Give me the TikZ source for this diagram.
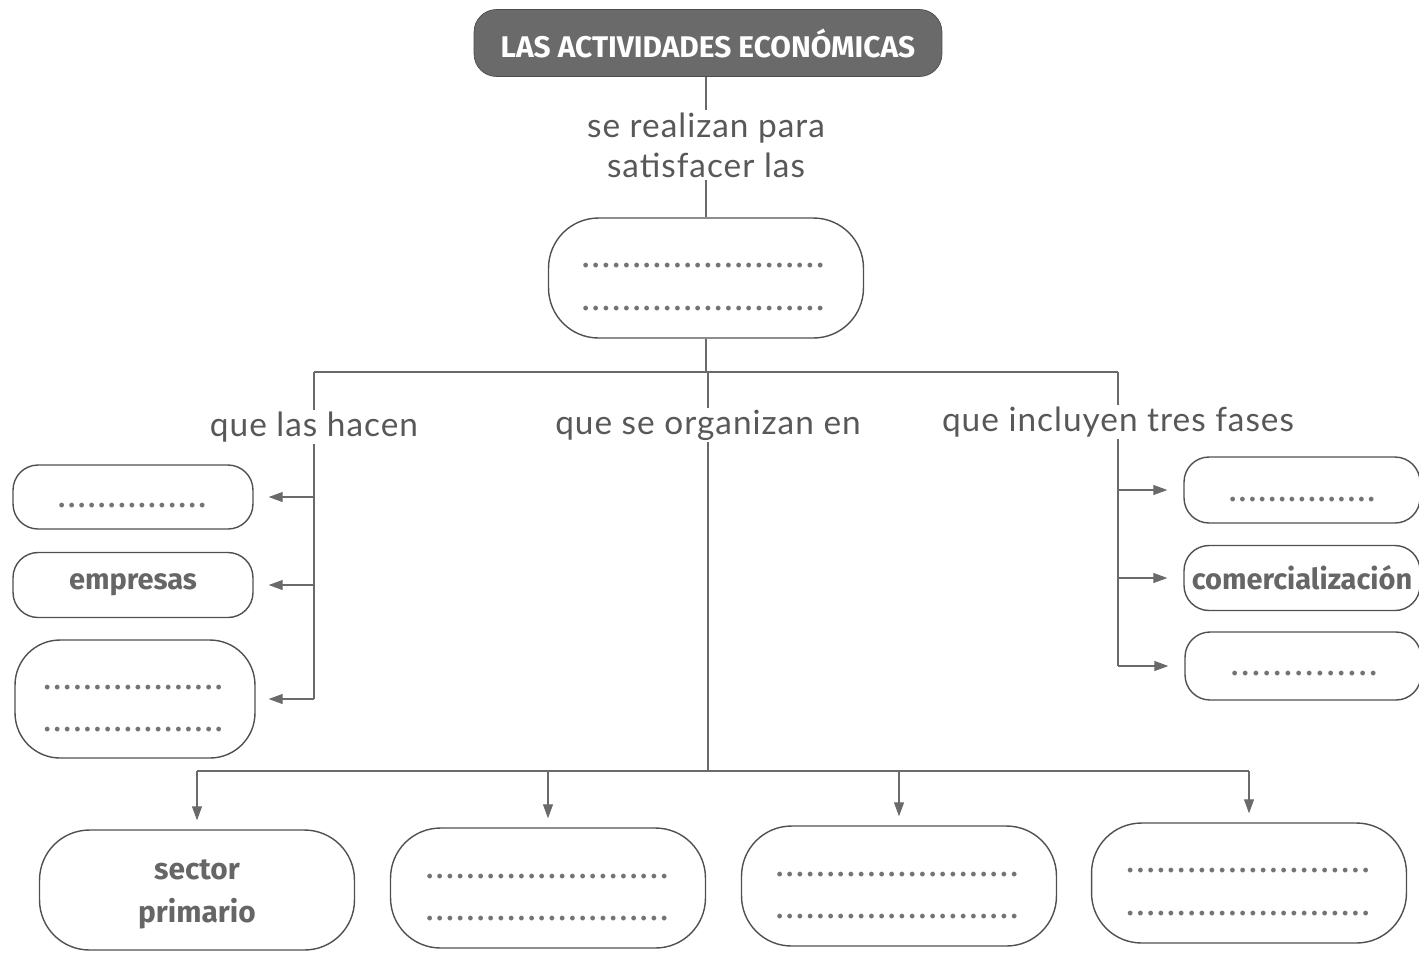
\documentclass[tikz,border=0pt]{standalone}
\usepackage{fontspec}
\setmainfont{Fira Sans}
\newfontfamily\labelfont[LetterSpace=3]{Lato}
\usepackage{tikz}
\usetikzlibrary{arrows.meta,positioning,calc}

\definecolor{inkgray}{HTML}{505050}
\definecolor{titlegray}{HTML}{6A6A6A}
\definecolor{textgray}{HTML}{585858}

% a row of blank dots to fill in: #1 dots spread over width #2
\newcommand{\blank}[2]{\makebox[#2][s]{.\foreach\i in {2,...,#1}{\hfill.}}}

\begin{document}
\begin{tikzpicture}[
  x=0.02cm, y=-0.02cm,
  title/.style={fill=titlegray, draw=black!70, rounded corners=0.45cm,
    minimum width=9.36cm, minimum height=1.34cm, text=white,
    font=\fontsize{17}{20}\selectfont\bfseries},
  linklabel/.style={fill=white, align=center, inner sep=1pt, text=textgray,
    font=\labelfont\fontsize{19}{22.8}\selectfont},
  bigbox/.style={draw=inkgray, thick, rounded corners=1cm,
    minimum width=6.3cm, minimum height=2.4cm},
  smallbox/.style={draw=inkgray, thick, rounded corners=0.5cm,
    minimum width=4.8cm, minimum height=1.28cm},
  word/.style={font=\fontsize{16.5}{24}\selectfont\bfseries, text=black!60},
  dotrow/.style={inner sep=0pt, text=inkgray!80,
    font=\fontsize{15}{15}\selectfont\bfseries},
  line/.style={draw=inkgray!85, line width=0.6pt},
  arrow/.style={line, -{Triangle[length=2.8mm, width=2mm]}}
]
\useasboundingbox (0,0) rectangle (1419,958);

\node[title] (eco) at (708,43) {LAS ACTIVIDADES ECONÓMICAS};
\node[linklabel] (realizan) at (706,145) {se realizan para\\satisfacer las};
\node[bigbox] (needs) at (706,278) {};
\node[dotrow] at (703,266) {\blank{24}{4.82cm}};
\node[dotrow] at (703,309) {\blank{24}{4.82cm}};

\draw[line] (eco.south -| realizan.north) -- (realizan.north);
\draw[line] (realizan.south) -- (realizan.south |- needs.north);

% three branches
\node[linklabel] (hacen) at (314,427) {que las hacen};
\node[linklabel] (organizan) at (708,425) {que se organizan en};
\node[linklabel] (fases) at (1118,422) {que incluyen tres fases};
\coordinate (split) at (706,372);
\draw[line] (needs.south) -- (split);
\draw[line] (hacen.north |- split) -- (fases.north |- split);
\draw[line] (hacen.north |- split) -- (hacen.north);
\draw[line] (organizan.north |- split) -- (organizan.north);
\draw[line] (fases.north |- split) -- (fases.north);

% who does them
\node[smallbox] (agents) at (133,497) {};
\node[dotrow] at (132,506) {\blank{15}{2.94cm}};
\node[smallbox, minimum height=1.3cm] (firms) at (133,585) {};
\node[word] at (firms) {empresas};
\node[smallbox, minimum height=2.36cm, rounded corners=0.9cm] (other) at (135,699) {};
\node[dotrow] at (133,688) {\blank{18}{3.56cm}};
\node[dotrow] at (133,730) {\blank{18}{3.56cm}};
\draw[line] (hacen.south) -- (hacen.south |- other.east);
\draw[arrow] (hacen.south |- agents.east) -- ($(agents.east)+(15,0)$);
\draw[arrow] (hacen.south |- firms.east) -- ($(firms.east)+(15,0)$);
\draw[arrow] (hacen.south |- other.east) -- ($(other.east)+(13,0)$);

% three phases
\node[smallbox, minimum width=4.72cm, minimum height=1.32cm] (prod) at (1302,490) {};
\node[dotrow] at (1302,500) {\blank{15}{2.9cm}};
\node[smallbox, minimum width=4.72cm, minimum height=1.3cm] (trade) at (1302,578) {};
\node[word] at (trade) {comercialización};
\node[smallbox, minimum width=4.72cm, minimum height=1.36cm] (cons) at (1303,666) {};
\node[dotrow] at (1304,674) {\blank{14}{2.9cm}};
\draw[line] (fases.south) -- (fases.south |- cons.west);
\draw[arrow] (fases.south |- prod.west) -- ($(prod.west)-(16,0)$);
\draw[arrow] (fases.south |- trade.west) -- ($(trade.west)-(16,0)$);
\draw[arrow] (fases.south |- cons.west) -- ($(cons.west)-(16,0)$);

% four sectors
\node[bigbox] (primary) at (197,890) {};
\node[word, align=center, font=\fontsize{17}{24.5}\selectfont\bfseries] at ([yshift=-0.08cm]primary) {sector\\primario};
\node[bigbox] (second) at (548,888) {};
\node[dotrow] at (547,877) {\blank{24}{4.82cm}};
\node[dotrow] at (547,919) {\blank{24}{4.82cm}};
\node[bigbox] (third) at (899,886) {};
\node[dotrow] at (897,875) {\blank{24}{4.82cm}};
\node[dotrow] at (897,917) {\blank{24}{4.82cm}};
\node[bigbox] (fourth) at (1249,883) {};
\node[dotrow] at (1248,871) {\blank{24}{4.84cm}};
\node[dotrow] at (1248,914) {\blank{24}{4.84cm}};
\coordinate (join) at (708,771);
\draw[line] (organizan.south) -- (join);
\draw[line] (primary.north |- join) -- (fourth.north |- join);
\foreach \s in {primary,second,third,fourth}
  \draw[arrow] (\s.north |- join) -- ($(\s.north)-(0,9)$);
\end{tikzpicture}
\end{document}
